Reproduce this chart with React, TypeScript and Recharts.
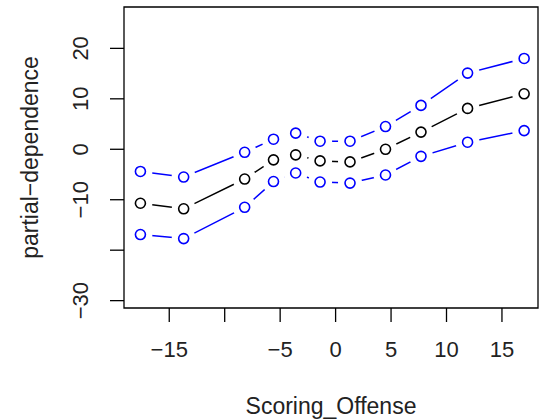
import React from "react";
import { ComposedChart, Line, Scatter, XAxis, YAxis, ReferenceArea, Label } from "recharts";

// Scoring_Offense grid points and the partial dependence with its band
const scoring = [-17.6, -13.7, -8.2, -5.6, -3.6, -1.4, 1.3, 4.5, 7.7, 11.9, 17.0];
const pdMid = [-10.7, -11.8, -5.9, -2.1, -1.1, -2.3, -2.5, 0.0, 3.4, 8.1, 11.0];
const pdUpper = [-4.4, -5.5, -0.6, 2.0, 3.2, 1.6, 1.6, 4.5, 8.7, 15.1, 18.0];
const pdLower = [-16.9, -17.7, -11.5, -6.4, -4.7, -6.5, -6.7, -5.1, -1.4, 1.4, 3.7];

const xTicks = [-15, -10, -5, 0, 5, 10, 15];
const yTicks = [-30, -20, -10, 0, 10, 20];
// R drops labels that would collide
const xHidden = [-10];
const yHidden = [-20];

const X_DOMAIN: [number, number] = [-19.08, 18.25];
const Y_DOMAIN: [number, number] = [-31.46, 28.2];

const data = scoring.map((x, i) => ({
  x,
  mid: pdMid[i],
  upper: pdUpper[i],
  lower: pdLower[i],
}));

const FONT = "'Liberation Sans', Arial, sans-serif";
const fmt = (v: number) => (v < 0 ? "\u2212" + Math.abs(v) : String(v));

const XTick = (props: any) => {
  const { x, y, payload } = props;
  if (xHidden.includes(payload.value)) return null;
  return (
    <text x={x} y={y + 33} textAnchor="middle" fontFamily={FONT} fontSize={22} fill="#222">
      {fmt(payload.value)}
    </text>
  );
};

const YTick = (props: any) => {
  const { x, y, payload } = props;
  if (yHidden.includes(payload.value)) return null;
  const bx = x - 20;
  return (
    <text
      x={bx}
      y={y}
      transform={`rotate(-90 ${bx} ${y})`}
      textAnchor="middle"
      fontFamily={FONT}
      fontSize={22}
      fill="#222"
    >
      {fmt(payload.value)}
    </text>
  );
};

// type="b" look: blank a gap round each point, then an open circle
const makePoint = (color: string) => (props: any) => {
  const { cx, cy } = props;
  if (cx == null || cy == null) return <g />;
  return (
    <g>
      <circle cx={cx} cy={cy} r={12} style={{ fill: "#ffffff", stroke: "none" }} />
      <circle cx={cx} cy={cy} r={5} style={{ fill: "none", stroke: color, strokeWidth: 1.6 }} />
    </g>
  );
};

const series = [
  { key: "upper", color: "#0000ff" },
  { key: "mid", color: "#000000" },
  { key: "lower", color: "#0000ff" },
];

export default function App() {
  return (
    <div style={{ position: "absolute", left: 0, top: 0, width: 544, height: 420, background: "#fff" }}>
      <ComposedChart width={544} height={420} data={data} margin={{ top: 7, right: 6, bottom: 0, left: 0 }}>
        <XAxis
          dataKey="x"
          type="number"
          domain={X_DOMAIN}
          ticks={xTicks}
          allowDataOverflow
          height={112}
          tickSize={14}
          axisLine={false}
          tickLine={{ stroke: "#000", strokeWidth: 1.3 }}
          tick={<XTick />}
          interval={0}
        >
          <Label
            content={(p: any) => {
              const vb = p.viewBox;
              return (
                <text x={vb.x + vb.width / 2} y={414} textAnchor="middle" fontFamily={FONT} fontSize={23} fill="#222">
                  Scoring_Offense
                </text>
              );
            }}
          />
        </XAxis>
        <YAxis
          type="number"
          domain={Y_DOMAIN}
          ticks={yTicks}
          allowDataOverflow
          width={124}
          tickSize={14}
          axisLine={false}
          tickLine={{ stroke: "#000", strokeWidth: 1.3 }}
          tick={<YTick />}
          interval={0}
        >
          <Label
            content={(p: any) => {
              const vb = p.viewBox;
              const cy = vb.y + vb.height / 2;
              return (
                <text
                  x={38}
                  y={cy}
                  transform={`rotate(-90 38 ${cy})`}
                  textAnchor="middle"
                  fontFamily={FONT}
                  fontSize={23}
                  fill="#222"
                >
                  partial{"\u2212"}dependence
                </text>
              );
            }}
          />
        </YAxis>
        {series.map((s) => (
          <Line
            key={`l-${s.key}`}
            dataKey={s.key}
            stroke={s.color}
            strokeWidth={1.5}
            dot={false}
            activeDot={false}
            isAnimationActive={false}
          />
        ))}
        {series.map((s) => (
          <Scatter
            key={`p-${s.key}`}
            dataKey={s.key}
            shape={makePoint(s.color)}
            isAnimationActive={false}
          />
        ))}
        <ReferenceArea
          x1={X_DOMAIN[0]}
          x2={X_DOMAIN[1]}
          y1={Y_DOMAIN[0]}
          y2={Y_DOMAIN[1]}
          fill="none"
          stroke="#000"
          strokeWidth={1.3}
          ifOverflow="visible"
        />
      </ComposedChart>
    </div>
  );
}
